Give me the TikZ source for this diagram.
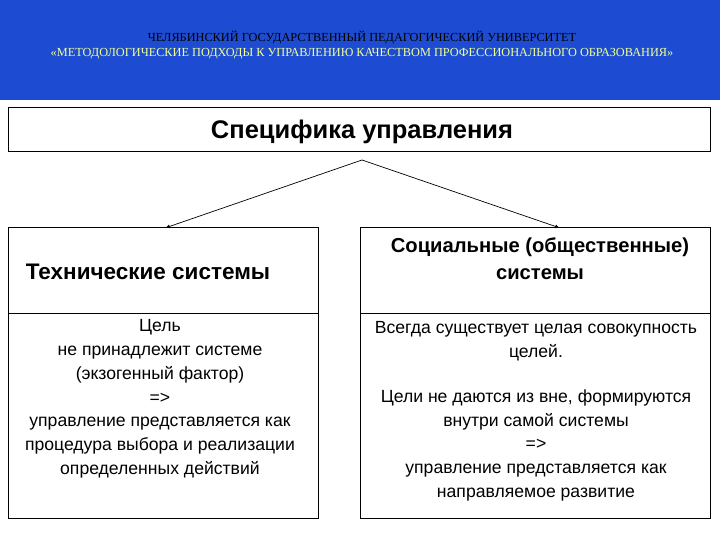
\documentclass[tikz,border=0pt]{standalone}
\usepackage{fontspec}
\setmainfont{Liberation Sans}
\newfontfamily\serifhdr{Liberation Serif}
\definecolor{band}{RGB}{29,76,210}
\definecolor{hdryel}{RGB}{240,255,150}
\begin{document}
\begin{tikzpicture}[x=1pt,y=-1pt,
  boxline/.style={draw=black,line width=1pt},
  body/.style={align=center,font=\fontsize{17.6}{23.8}\selectfont},
  head/.style={align=center,font=\bfseries\fontsize{22.5}{27}\selectfont},
  arr/.style={-latex,line width=0.7pt}]
\useasboundingbox (0,0) rectangle (720,540);
\fill[white] (0,0) rectangle (720,540);
\fill[band] (0,0) rectangle (720,100);
\node[font=\serifhdr\fontsize{12.3}{14}\selectfont,text=black] (h1) at (362,38) {ЧЕЛЯБИНСКИЙ ГОСУДАРСТВЕННЫЙ ПЕДАГОГИЧЕСКИЙ УНИВЕРСИТЕТ};
\node[font=\serifhdr\fontsize{12.3}{14}\selectfont,text=hdryel] (h2) at (362,54) {«МЕТОДОЛОГИЧЕСКИЕ ПОДХОДЫ К УПРАВЛЕНИЮ КАЧЕСТВОМ ПРОФЕССИОНАЛЬНОГО ОБРАЗОВАНИЯ»};
\draw[boxline] (8,108) rectangle (710,152);
\node[head,font=\bfseries\fontsize{25.5}{30}\selectfont] (top) at (362,132) {Специфика управления};
\coordinate (src) at (362,160);
\coordinate (lt) at (165,228);
\coordinate (rt) at (560,228);
\draw[arr] (src) -- (lt);
\draw[arr] (src) -- (rt);
\draw[boxline] (8,228) rectangle (318,518);
\draw[boxline] (8,313) -- (318,313);
\draw[boxline] (360,228) rectangle (710,518);
\draw[boxline] (360,313) -- (710,313);
\node[head] (lh) at (148,272) {Технические системы};
\node[head,font=\bfseries\fontsize{20.2}{27}\selectfont] (rh) at (540,259) {Социальные (общественные)\\системы};
\node[body,anchor=north] (lb) at (160,316) {Цель\\не принадлежит системе\\(экзогенный фактор)\\=>\\управление представляется как\\процедура выбора и реализации\\определенных действий};
\node[body,anchor=north] (rb) at (536,318) {Всегда существует целая совокупность\\целей.\\[21pt]Цели не даются из вне, формируются\\внутри самой системы\\=>\\управление представляется как\\направляемое развитие};
\end{tikzpicture}
\end{document}
